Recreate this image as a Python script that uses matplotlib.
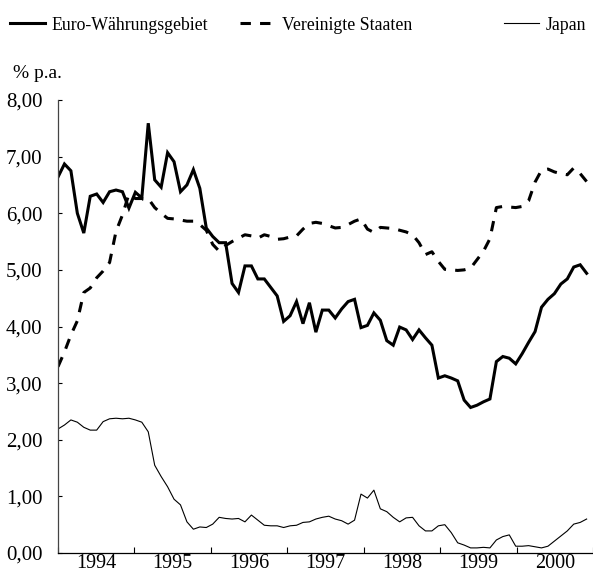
import numpy as np
import matplotlib
matplotlib.use("Agg")
import matplotlib.pyplot as plt
from matplotlib.ticker import FixedLocator, FuncFormatter, NullFormatter

# monthly values, Jan 1994 - Nov 2000, % p.a.
euro = [6.64, 6.87, 6.75, 6.00, 5.65, 6.30, 6.34, 6.19, 6.38, 6.41, 6.38, 6.09,
        6.37, 6.27, 7.59, 6.59, 6.46, 7.07, 6.91, 6.38, 6.50, 6.77, 6.44, 5.74,
        5.59, 5.48, 5.48, 4.76, 4.60, 5.07, 5.07, 4.84, 4.84, 4.69, 4.54, 4.09,
        4.19, 4.44, 4.05, 4.42, 3.90, 4.29, 4.29, 4.15, 4.31, 4.44, 4.48, 3.98,
        4.02, 4.24, 4.11, 3.75, 3.67, 3.99, 3.94, 3.77, 3.94, 3.80, 3.67, 3.09,
        3.13, 3.09, 3.04, 2.70, 2.57, 2.61, 2.67, 2.72, 3.38, 3.47, 3.44, 3.34,
        3.52, 3.72, 3.91, 4.34, 4.48, 4.58, 4.75, 4.84, 5.05, 5.09, 4.94]
usa = [3.29, 3.55, 3.85, 4.10, 4.60, 4.68, 4.86, 4.98, 5.13, 5.68, 5.97, 6.34,
       6.26, 6.26, 6.26, 6.10, 6.00, 5.91, 5.90, 5.88, 5.86, 5.86, 5.80, 5.70,
       5.45, 5.33, 5.43, 5.50, 5.56, 5.62, 5.60, 5.56, 5.62, 5.59, 5.54, 5.55,
       5.58, 5.60, 5.72, 5.82, 5.84, 5.82, 5.78, 5.74, 5.75, 5.80, 5.86, 5.90,
       5.72, 5.66, 5.75, 5.74, 5.73, 5.70, 5.67, 5.62, 5.48, 5.27, 5.32, 5.15,
       5.01, 5.00, 4.99, 5.00, 5.03, 5.18, 5.33, 5.55, 6.10, 6.12, 6.11, 6.10,
       6.12, 6.22, 6.55, 6.76, 6.78, 6.73, 6.70, 6.68, 6.80, 6.70, 6.56]
japan = [2.19, 2.26, 2.35, 2.31, 2.22, 2.17, 2.17, 2.32, 2.37, 2.38, 2.37, 2.38,
         2.35, 2.31, 2.14, 1.55, 1.35, 1.17, 0.95, 0.85, 0.55, 0.42, 0.46, 0.45,
         0.51, 0.63, 0.61, 0.60, 0.61, 0.55, 0.67, 0.58, 0.49, 0.48, 0.48, 0.45,
         0.48, 0.49, 0.54, 0.55, 0.60, 0.63, 0.65, 0.60, 0.57, 0.51, 0.58, 1.04,
         0.97, 1.11, 0.78, 0.73, 0.63, 0.55, 0.62, 0.63, 0.48, 0.39, 0.39, 0.48,
         0.50, 0.36, 0.18, 0.14, 0.09, 0.09, 0.10, 0.09, 0.23, 0.29, 0.32, 0.12,
         0.12, 0.13, 0.11, 0.09, 0.12, 0.21, 0.30, 0.39, 0.51, 0.54, 0.60]
years = ["1994", "1995", "1996", "1997", "1998", "1999", "2000"]
labels = ["Euro-Währungsgebiet", "Vereinigte Staaten", "Japan"]

plt.rcParams["font.family"] = ["Liberation Serif", "DejaVu Serif"]
plt.rcParams["font.size"] = 14

x = np.linspace(0, 83, len(euro))

fig = plt.figure(figsize=(5.93, 5.76), dpi=100)
ax = fig.add_axes([58 / 593, 23 / 576, 535 / 593, 453 / 576])

l1, = ax.plot(x, euro, color="black", lw=2.2, solid_joinstyle="miter")
l2, = ax.plot(x, usa, color="black", lw=2.2, dashes=(3.4, 3.0))
l3, = ax.plot(x, japan, color="black", lw=0.8)

ax.set_xlim(0, 84)
ax.set_ylim(0, 8)
ax.set_yticks(np.arange(0, 9, 1))
ax.yaxis.set_major_formatter(FuncFormatter(lambda v, p: ("%.2f" % v).replace(".", ",")))
ax.xaxis.set_major_locator(FixedLocator(np.arange(0, 85, 12)))
ax.xaxis.set_major_formatter(NullFormatter())
ax.xaxis.set_minor_locator(FixedLocator(np.arange(6, 84, 12)))
ax.set_xticklabels(years, minor=True)
ax.tick_params(axis="x", which="major", direction="in", length=4, width=0.8)
ax.tick_params(axis="x", which="minor", length=0, pad=1, labelsize=14.5)
ax.tick_params(axis="y", direction="in", length=3, width=0.8, pad=11, labelsize=15)
for s in ["top", "right"]:
    ax.spines[s].set_visible(False)
ax.spines["left"].set_color("#444444")
ax.spines["left"].set_linewidth(0.9)
ax.spines["bottom"].set_linewidth(0.9)

fig.text(13 / 593, 1 - 73 / 576, "% p.a.", ha="left", va="center", fontsize=14)

# legend entries along the top
for h, lab, x0 in zip([l1, l2, l3], labels, [10, 240, 504]):
    fig.legend([h], [lab], loc="center left", bbox_to_anchor=(x0 / 593, 1 - 25 / 576),
               frameon=False, borderpad=0, borderaxespad=0, handlelength=1.95,
               handletextpad=0.4, fontsize=12.8)

fig.savefig("out.png", dpi=100)
